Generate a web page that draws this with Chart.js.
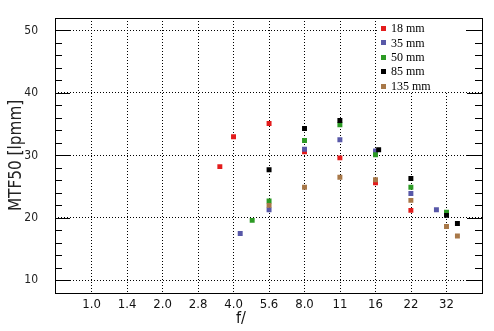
<!DOCTYPE html>
<html lang="en">
<head>
    <meta charset="UTF-8">
    <title>MTF50 vs aperture</title>
    <style>
        html, body {
            margin: 0;
            padding: 0;
            background: #fff;
        }
        #wrap {
            width: 494px;
            height: 331px;
        }
    </style>
</head>
<body>
    <div id="wrap"><canvas id="mtf-chart" width="494" height="331"></canvas></div>

    <script src="https://cdn.jsdelivr.net/npm/chart.js"></script>
    <script>
        // aperture tick labels (nominal f-numbers)
        const xTickLabels = ['1.0', '1.4', '2.0', '2.8', '4.0', '5.6', '8.0', '11', '16', '22', '32'];
        const yTickValues = [10, 20, 30, 40, 50];

        // readings per focal length: f-number and MTF50 [lp/mm]
        const f18 = [3.5, 4.0, 5.66, 8.0, 11.3, 16.0, 22.6];
        const mtf18 = [28.2, 33.0, 35.1, 30.6, 29.6, 25.6, 21.2];

        const f35 = [4.27, 5.66, 8.0, 11.3, 16.0, 22.6, 29.0];
        const mtf35 = [17.5, 21.3, 31.0, 32.5, 30.7, 23.9, 21.3];

        const f50 = [4.8, 5.66, 8.0, 11.3, 16.0, 22.6, 32.0];
        const mtf50 = [19.6, 22.7, 32.4, 34.9, 30.1, 24.9, 20.9];

        const f85 = [5.66, 8.0, 11.3, 16.5, 22.6, 32.0, 35.6];
        const mtf85 = [27.7, 34.3, 35.6, 30.9, 26.3, 20.4, 19.1];

        const f135 = [5.66, 8.0, 11.3, 16.0, 22.6, 32.0, 35.6];
        const mtf135 = [22.0, 24.9, 26.5, 26.1, 22.8, 18.6, 17.1];

        const seriesNames = ['18 mm', '35 mm', '50 mm', '85 mm', '135 mm'];
        const seriesColors = ['#e31c1c', '#5858a8', '#2c9a24', '#000000', '#a87848'];

        function toPoints(fs, vals) {
            return fs.map((f, i) => ({ x: f, y: vals[i] }));
        }

        const allF = [f18, f35, f50, f85, f135];
        const allMtf = [mtf18, mtf35, mtf50, mtf85, mtf135];

        const datasets = seriesNames.map((name, i) => ({
            label: name,
            data: toPoints(allF[i], allMtf[i]),
            pointStyle: 'rect',
            pointRadius: 3.5,
            pointHoverRadius: 3.5,
            pointBorderWidth: 0,
            backgroundColor: seriesColors[i],
            borderColor: seriesColors[i],
            showLine: false,
            order: 4 - i
        }));

        const PLOT = { left: 55, right: 482, top: 18, bottom: 293 };

        // frame, inward ticks and the in-plot legend
        const framePlugin = {
            id: 'frame',
            afterDraw(chart) {
                const ctx = chart.ctx;
                const area = chart.chartArea;
                const yScale = chart.scales.y;
                ctx.save();
                ctx.strokeStyle = '#000';
                ctx.lineWidth = 1;
                ctx.setLineDash([]);
                ctx.beginPath();
                for (let v = 10; v <= 50; v += 2) {
                    const y = Math.round(yScale.getPixelForValue(v)) + 0.5;
                    const len = v % 10 === 0 ? 15 : 7;
                    ctx.moveTo(area.left, y);
                    ctx.lineTo(area.left + len, y);
                    ctx.moveTo(area.right, y);
                    ctx.lineTo(area.right - len, y);
                }
                ctx.stroke();
                ctx.strokeRect(Math.round(area.left) + 0.5, Math.round(area.top) + 0.5,
                    Math.round(area.right - area.left), Math.round(area.bottom - area.top));

                // legend
                ctx.fillStyle = '#fff';
                ctx.fillRect(378, 19, 88, 72);
                ctx.font = '12px "Liberation Serif", "Times New Roman", serif';
                ctx.textBaseline = 'middle';
                chart.data.datasets.forEach((ds, i) => {
                    const cy = 28 + i * 14.4;
                    ctx.fillStyle = ds.backgroundColor;
                    ctx.fillRect(381, Math.round(cy) - 2, 5, 5);
                    ctx.fillStyle = '#000';
                    ctx.fillText(ds.label, 391, cy + 1);
                });
                ctx.restore();
            }
        };

        const narrow = '"Liberation Sans Narrow", "Arial Narrow", "DejaVu Sans Condensed", sans-serif';

        new Chart(document.getElementById('mtf-chart'), {
            type: 'scatter',
            data: { datasets: datasets },
            options: {
                responsive: false,
                animation: false,
                events: [],
                layout: {
                    padding: { left: 0, right: 494 - PLOT.right, top: PLOT.top, bottom: 0 }
                },
                plugins: {
                    legend: { display: false },
                    tooltip: { enabled: false },
                    title: {
                        display: true,
                        position: 'bottom',
                        text: 'f/',
                        color: '#111',
                        font: { family: narrow, size: 16, weight: 'normal' },
                        padding: { top: 0, bottom: 3 }
                    }
                },
                scales: {
                    x: {
                        type: 'logarithmic',
                        min: Math.SQRT1_2,
                        max: 32 * Math.SQRT2,
                        afterBuildTicks(scale) {
                            scale.ticks = xTickLabels.map((_, i) => ({ value: Math.pow(Math.SQRT2, i) }));
                        },
                        afterFit(scale) {
                            scale.height = 16;
                            scale.paddingLeft = 0;
                            scale.paddingRight = 0;
                        },
                        ticks: {
                            autoSkip: false,
                            maxRotation: 0,
                            padding: 4,
                            color: '#111',
                            font: { family: narrow, size: 13 },
                            callback: (value, index) => xTickLabels[index]
                        },
                        grid: {
                            color: '#000',
                            lineWidth: 1,
                            drawTicks: false
                        },
                        border: { display: false, dash: [1, 2] }
                    },
                    y: {
                        type: 'linear',
                        min: 8,
                        max: 52,
                        afterBuildTicks(scale) {
                            scale.ticks = yTickValues.map(v => ({ value: v }));
                        },
                        afterFit(scale) {
                            scale.width = PLOT.left;
                            scale.paddingTop = 0;
                            scale.paddingBottom = 0;
                        },
                        ticks: {
                            padding: 17,
                            color: '#222',
                            font: { family: narrow, size: 12 }
                        },
                        grid: {
                            color: '#000',
                            lineWidth: 1,
                            drawTicks: false
                        },
                        border: { display: false, dash: [1, 2] },
                        title: {
                            display: true,
                            text: 'MTF50 [lpmm]',
                            color: '#222',
                            font: { family: narrow, size: 17 },
                            padding: { top: 6, bottom: 0 }
                        }
                    }
                }
            },
            plugins: [framePlugin]
        });
    </script>
</body>
</html>
